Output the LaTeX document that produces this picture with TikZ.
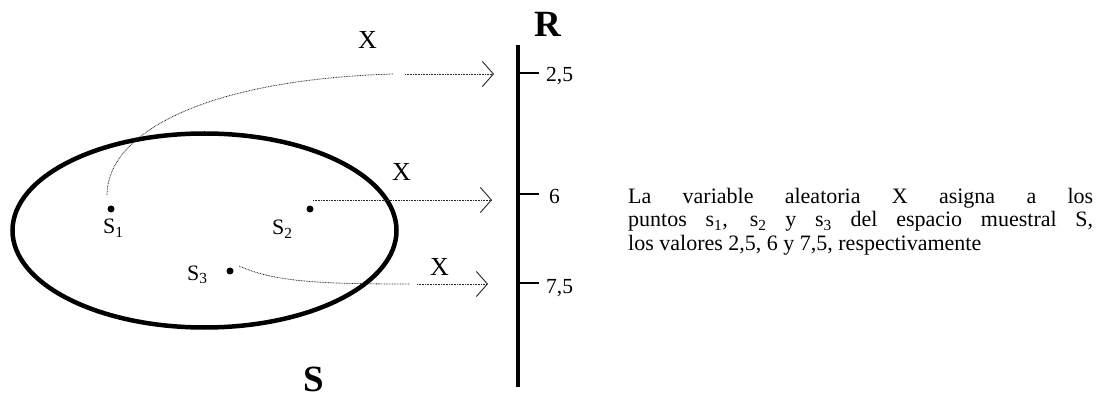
\documentclass[tikz,border=0pt]{standalone}
\usepackage{fontspec}
\setmainfont{Liberation Serif}
\usetikzlibrary{arrows.meta}
\begin{document}
\begin{tikzpicture}[x=1pt,y=-1pt,
  dotline/.style={draw=black!85,line width=0.8pt,dash pattern=on 0.8pt off 0.8pt},
  mapto/.style={dotline,-{Straight Barb[length=11pt,width=25pt,line width=0.9pt]}},
  pt/.style={circle,fill=black,inner sep=0pt,minimum size=7pt},
  slbl/.style={font=\fontsize{22}{24}\selectfont,inner sep=0pt,anchor=base west},
  xlbl/.style={font=\fontsize{26}{28}\selectfont,inner sep=0pt,anchor=base west},
  vlbl/.style={font=\fontsize{21.5}{24}\selectfont,inner sep=0pt,anchor=base west},
  biglbl/.style={font=\fontsize{37}{40}\selectfont\bfseries,inner sep=0pt,anchor=base west},
  tick/.style={line width=2pt}
]
\useasboundingbox (0,0) rectangle (1098,398);
% sample space
\draw[line width=4.5pt] (204.5,230.5) ellipse [x radius=192, y radius=97];
\node[biglbl] (Slbl) at (303,391) {S};
% points
\node[pt] (s1) at (111,209) {};
\node[pt] (s2) at (310,209) {};
\node[pt] (s3) at (230,271) {};
\node[slbl] (l1) at (103,234) {S\textsubscript{1}};
\node[slbl] (l2) at (272,235) {S\textsubscript{2}};
\node[slbl] (l3) at (187,280) {S\textsubscript{3}};
% real axis
\coordinate (top) at (518,45);
\coordinate (bot) at (518,387);
\draw[line width=4pt] (top) -- (bot);
\node[biglbl] (R) at (534,37) {R};
\coordinate (k1) at (518,73);
\coordinate (k2) at (518,194);
\coordinate (k3) at (518,283);
\coordinate (e1) at (539,73);
\coordinate (e2) at (539,194);
\coordinate (e3) at (539,283);
\draw[tick] (k1) -- (e1);
\draw[tick] (k2) -- (e2);
\draw[tick] (k3) -- (e3);
\node[vlbl] (v1) at (546,82) {2,5};
\node[vlbl] (v2) at (549,204) {6};
\node[vlbl] (v3) at (546,293) {7,5};
% mappings
\coordinate (a1) at (107,195);
\coordinate (b1) at (393,74);
\coordinate (c1) at (405,74);
\coordinate (t1) at (494,74);
\draw[dotline] (a1) .. controls (107,135) and (200,80) .. (b1);
\draw[mapto] (c1) -- (t1);
\coordinate (a2) at (313,200);
\coordinate (t2) at (492,200);
\draw[mapto] (a2) -- (t2);
\coordinate (a3) at (239,266);
\coordinate (b3) at (410,284);
\coordinate (c3) at (417,284);
\coordinate (t3) at (488,284);
\draw[dotline] (a3) .. controls (275,282) and (320,284) .. (b3);
\draw[mapto] (c3) -- (t3);
\node[xlbl] (x1) at (358,49) {X};
\node[xlbl] (x2) at (392,181) {X};
\node[xlbl] (x3) at (430,276) {X};
% explanation
\node[anchor=north west,inner sep=0pt,text width=465pt,align=justify,
  font=\fontsize{22}{23.5}\selectfont] (txt) at (628,188)
  {La variable aleatoria X asigna a los\linebreak
   puntos s\textsubscript{1}, s\textsubscript{2} y s\textsubscript{3} del espacio muestral S,\linebreak
   los valores 2,5, 6 y 7,5, respectivamente};
\end{tikzpicture}
\end{document}
